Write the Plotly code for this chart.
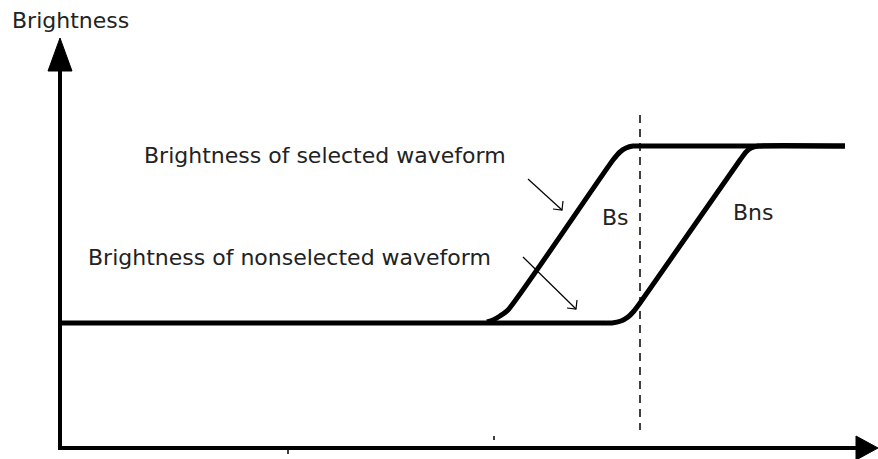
import plotly.graph_objects as go

# Schematic coordinates (x to the right, y measured downward on the canvas)
LOW_LEVEL = 323
HIGH_LEVEL = 146

# Brightness of the selected waveform: rises early
sel_x = [487, 493, 500, 508, 613, 620, 626, 633, 640]
sel_y = [322, 320, 316, 310, 160, 152, 148, 146, 146]

# Brightness of the nonselected waveform: low level, late rise, high level
non_low_x = [60, 606]
non_x = [606, 612, 621, 628, 634, 640, 740, 746, 751, 758, 845]
non_y = [323, 323, 321, 317, 311, 303, 160, 152, 148, 146, 146]

# Reference instant (dashed marker)
ref_x = 640
ref_top, ref_bottom = 115, 430

# Axes of the diagram
y_axis_x = [60, 60]
y_axis_y = [448, 62]
x_axis_x = [58, 862]
x_axis_y = [448, 448]

fig = go.Figure()

black = "#000000"

def add_line(xs, ys, width, dash=None, shape="linear"):
    fig.add_trace(go.Scatter(
        x=xs, y=ys, mode="lines",
        line=dict(color=black, width=width, dash=dash, shape=shape, smoothing=0.6),
        hoverinfo="skip", showlegend=False))

def add_fill(xs, ys):
    fig.add_trace(go.Scatter(
        x=xs, y=ys, mode="lines", fill="toself", fillcolor=black,
        line=dict(color=black, width=1), hoverinfo="skip", showlegend=False))

# axes
add_line(y_axis_x, y_axis_y, 4)
add_line(x_axis_x, x_axis_y, 4)
add_fill([60, 48, 72, 60], [38, 71, 71, 38])
add_fill([878, 856, 856, 878], [448, 436, 460, 448])

# waveforms
add_line(non_low_x, [LOW_LEVEL, LOW_LEVEL], 5)
add_line(non_x, non_y, 5, shape="spline")
add_line(sel_x, sel_y, 5, shape="spline")
add_line([sel_x[-1], non_x[-1]], [HIGH_LEVEL, HIGH_LEVEL], 5)

# dashed reference line
add_line([ref_x, ref_x], [ref_top, ref_bottom], 1.5, dash="8px,6px")

# small ticks
add_line([494, 494], [436, 440], 1.5)
add_line([288, 288], [450, 454], 1.5)

# pointer arrows (thin lines with open heads)
pointers = [((528, 179), (562, 210)), ((523, 257), (576, 309))]
for (x0, y0), (x1, y1) in pointers:
    add_line([x0, x1], [y0, y1], 1.2)
    add_line([x1 - 9, x1, x1 + 1], [y1 - 1, y1, y1 - 9], 1.2)

txt = dict(family="DejaVu Sans", size=22, color="#222222")
annotations = [
    dict(x=10, y=20, text="Brightness", xanchor="left"),
    dict(x=142, y=155, text="Brightness of selected waveform", xanchor="left"),
    dict(x=86, y=257, text="Brightness of nonselected waveform", xanchor="left"),
    dict(x=615, y=217, text="Bs", xanchor="center"),
    dict(x=753, y=212, text="Bns", xanchor="center"),
]
for a in annotations:
    fig.add_annotation(x=a["x"], y=a["y"], text=a["text"], xanchor=a["xanchor"],
                       yanchor="middle", showarrow=False, font=txt)

fig.update_xaxes(range=[0, 878], visible=False, fixedrange=True)
fig.update_yaxes(range=[459, 0], visible=False, fixedrange=True)
fig.update_layout(width=878, height=459, margin=dict(l=0, r=0, t=0, b=0),
                  paper_bgcolor="white", plot_bgcolor="white")

fig.write_html("out.html", config={"displayModeBar": False})
